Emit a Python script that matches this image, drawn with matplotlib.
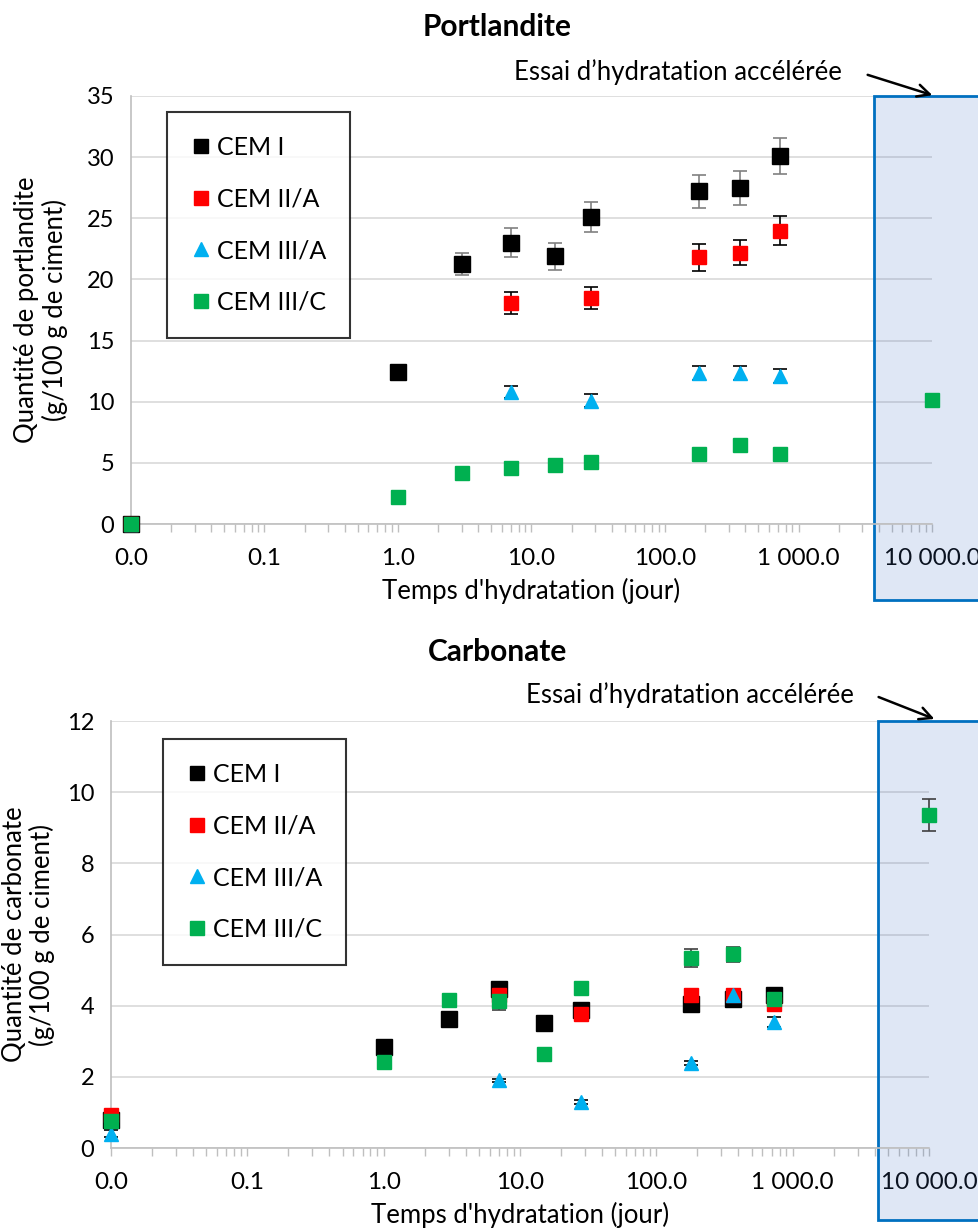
import numpy as np
import matplotlib
matplotlib.use("Agg")
import matplotlib.pyplot as plt
import matplotlib.transforms as mtransforms
from matplotlib.patches import Rectangle, FancyArrowPatch
from matplotlib.ticker import FixedLocator, LogLocator, NullFormatter

plt.rcParams['font.family'] = ['Lato', 'DejaVu Sans']

nan = np.nan
days = [0.01, 1, 3, 7, 15, 28, 180, 365, 730, 10000]
series = ["CEM I", "CEM II/A", "CEM III/A", "CEM III/C"]
xtick_vals = [0.01, 0.1, 1, 10, 100, 1000, 10000]
xtick_labels = ["0.0", "0.1", "1.0", "10.0", "100.0", "1 000.0", "10 000.0"]

# Portlandite (g/100 g de ciment)
port_cem1 = [0, 12.4, 21.3, 23.0, 21.9, 25.1, 27.2, 27.5, 30.1, nan]
port_cem1_err = [0, 0.3, 0.9, 1.2, 1.1, 1.2, 1.35, 1.4, 1.45, 0]
port_cem2 = [0, nan, nan, 18.05, nan, 18.5, 21.8, 22.2, 24.0, nan]
port_cem2_err = [0, 0, 0, 0.9, 0, 0.9, 1.1, 1.05, 1.2, 0]
port_cem3a = [0, nan, nan, 10.8, nan, 10.1, 12.35, 12.35, 12.1, nan]
port_cem3a_err = [0, 0, 0, 0.5, 0, 0.5, 0.6, 0.6, 0.55, 0]
port_cem3c = [0, 2.2, 4.2, 4.55, 4.85, 5.1, 5.75, 6.45, 5.75, 10.15]
port_cem3c_err = [0, 0.1, 0.1, 0.1, 0.1, 0.1, 0.1, 0.1, 0.1, 0.2]

# Carbonate (g/100 g de ciment)
carb_cem1 = [0.8, 2.85, 3.62, 4.46, 3.52, 3.87, 4.06, 4.2, 4.29, nan]
carb_cem1_err = [0.1, 0.05, 0.05, 0.1, 0.05, 0.1, 0.15, 0.15, 0.1, 0]
carb_cem2 = [0.92, nan, nan, 4.3, nan, 3.78, 4.31, 4.29, 4.04, nan]
carb_cem2_err = [0.05, 0, 0, 0.1, 0, 0.1, 0.15, 0.15, 0.1, 0]
carb_cem3a = [0.4, nan, nan, 1.9, nan, 1.3, 2.39, 4.31, 3.54, nan]
carb_cem3a_err = [0.1, 0, 0, 0.05, 0, 0.05, 0.05, 0.1, 0.15, 0]
carb_cem3c = [0.75, 2.43, 4.15, 4.12, 2.65, 4.5, 5.35, 5.44, 4.18, 9.37]
carb_cem3c_err = [0.05, 0.05, 0.15, 0.25, 0.05, 0.12, 0.25, 0.2, 0.1, 0.45]

styles = [
    dict(marker="s", color="#000000", ms=11, ecolor="#808080"),
    dict(marker="s", color="#ff0000", ms=10, ecolor="#000000"),
    dict(marker="^", color="#00b0f0", ms=10, ecolor="#000000"),
    dict(marker="s", color="#00b050", ms=10, ecolor="#404040"),
]

fig = plt.figure(figsize=(9.79, 12.29), dpi=100)
ax1 = fig.add_axes([0.1338, 0.5736, 0.8182, 0.3483])
ax2 = fig.add_axes([0.1134, 0.0659, 0.8356, 0.3474])


def draw(ax, vals, errs, ymax, ystep, ylabel, ylab_x, legend_pos, rect_x, rect_bottom):
    for v, e, name, st in zip(vals, errs, series, styles):
        ax.errorbar(days, v, yerr=e, fmt=st["marker"], color=st["color"], ms=st["ms"],
                    mec=st["color"], ecolor=st["ecolor"], elinewidth=1.2, capsize=5,
                    capthick=1.2, label=name, zorder=3, clip_on=False)
    ax.set_xscale("log")
    ax.set_xlim(0.01, 10000)
    ax.set_ylim(0, ymax)
    ax.set_yticks(np.arange(0, ymax + 0.1, ystep))
    ax.xaxis.set_major_locator(FixedLocator(xtick_vals))
    ax.set_xticklabels(xtick_labels)
    ax.xaxis.set_minor_locator(LogLocator(base=10, subs=np.arange(2, 10), numticks=20))
    ax.xaxis.set_minor_formatter(NullFormatter())
    ax.tick_params(axis="x", which="both", direction="out", length=6, width=1,
                   color="#bfbfbf", labelsize=17.5, pad=11)
    ax.tick_params(axis="y", length=0, labelsize=17, pad=12)
    ax.grid(axis="y", color="#d9d9d9", lw=1.2)
    ax.set_axisbelow(True)
    for s in ["top", "right"]:
        ax.spines[s].set_visible(False)
    for s in ["left", "bottom"]:
        ax.spines[s].set_color("#bfbfbf")
        ax.spines[s].set_linewidth(1.2)
    ax.set_xlabel("Temps d'hydratation (jour)", fontsize=18.5, labelpad=7)
    ax.set_ylabel(ylabel, fontsize=18.5, linespacing=1.1)
    ax.yaxis.set_label_coords(ylab_x, 0.5)

    handles = [plt.Line2D([], [], ls="", marker=st["marker"], color=st["color"], ms=9.5)
               for st in styles]
    leg = ax.legend(handles, series, loc="upper left", bbox_to_anchor=legend_pos,
                    fontsize=18, frameon=True, fancybox=False, edgecolor="black",
                    labelspacing=1.15, handlelength=0.8, handletextpad=0.25,
                    borderpad=0.95, borderaxespad=0)
    leg.get_frame().set_linewidth(1.5)
    leg.set_zorder(5)

    trans = mtransforms.blended_transform_factory(ax.transData, ax.transAxes)
    ax.add_patch(Rectangle((rect_x, rect_bottom), 1e6, 1 - rect_bottom, transform=trans,
                           facecolor=(0.27, 0.45, 0.77, 0.17), edgecolor="#0070c0",
                           lw=2, clip_on=False, zorder=1))


draw(ax1, [port_cem1, port_cem2, port_cem3a, port_cem3c],
     [port_cem1_err, port_cem2_err, port_cem3a_err, port_cem3c_err],
     35, 5, "Quantité de portlandite\n(g/100 g de ciment)", -0.079, (0.045, 0.963), 3700, -0.178)
draw(ax2, [carb_cem1, carb_cem2, carb_cem3a, carb_cem3c],
     [carb_cem1_err, carb_cem2_err, carb_cem3a_err, carb_cem3c_err],
     12, 2, "Quantité de carbonate\n(g/100 g de ciment)", -0.068, (0.064, 0.958), 4200, -0.169)

fig.text(0.508, 0.978, "Portlandite", ha="center", va="center", fontsize=21.5, fontweight="bold")
fig.text(0.508, 0.4695, "Carbonate", ha="center", va="center", fontsize=21.5, fontweight="bold")

fig.text(0.692, 1 - 72 / 1229, "Essai d\u2019hydratation accélérée", ha="center", va="center", fontsize=18.5)
fig.text(0.7043, 1 - 695 / 1229, "Essai d\u2019hydratation accélérée", ha="center", va="center", fontsize=18.5)
for start, end in [((865, 74), (935, 96)), ((876, 696), (937, 720))]:
    fig.add_artist(FancyArrowPatch((start[0] / 979, 1 - start[1] / 1229),
                                   (end[0] / 979, 1 - end[1] / 1229),
                                   transform=fig.transFigure, arrowstyle="->",
                                   mutation_scale=22, lw=1.8, color="black"))

fig.savefig("out.png", dpi=100)
